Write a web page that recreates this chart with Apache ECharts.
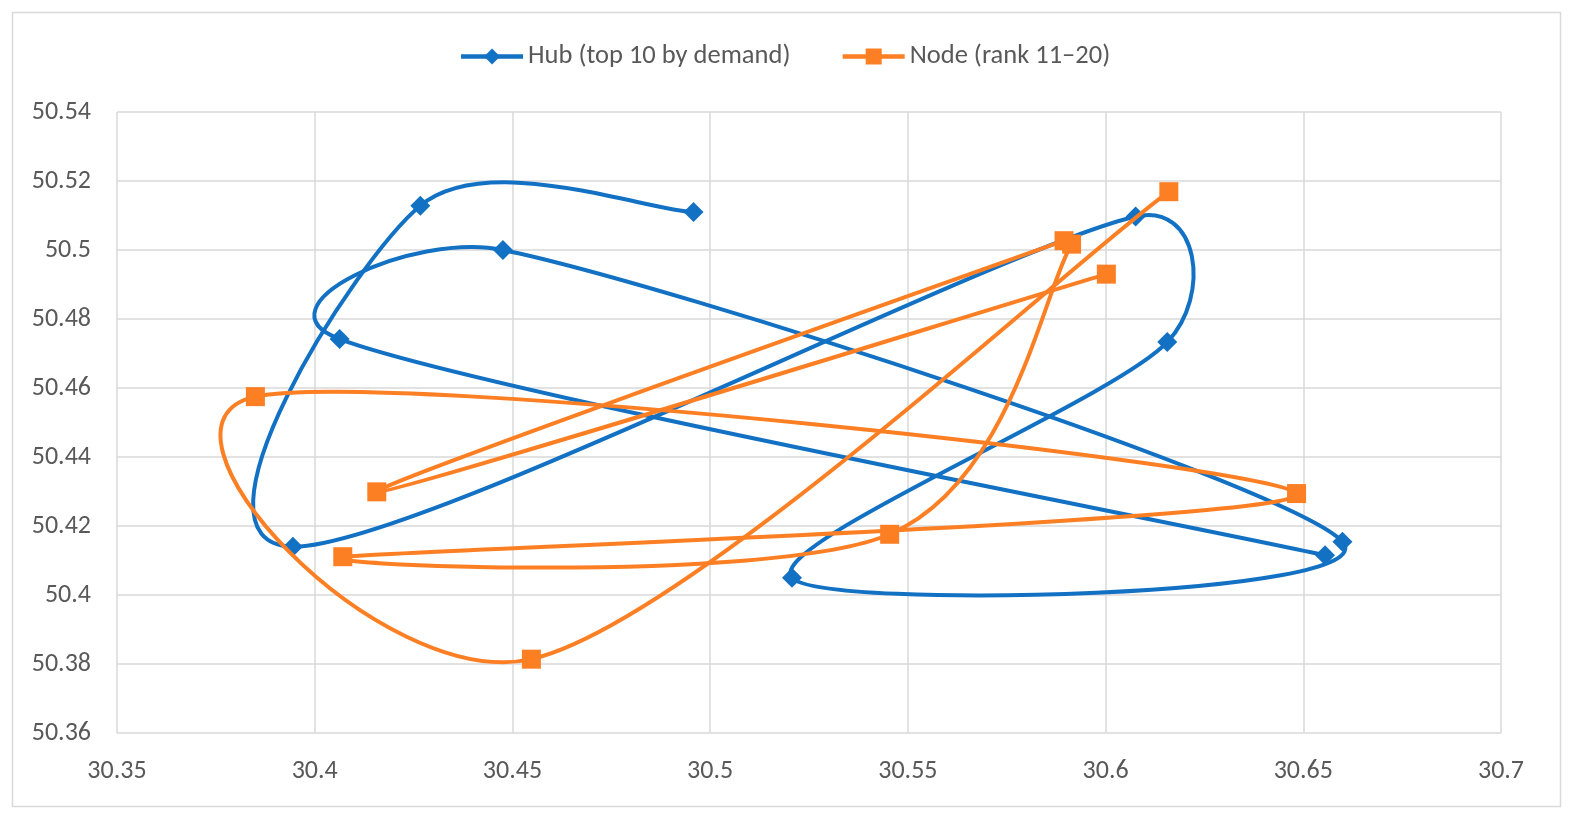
<!DOCTYPE html>
<html>
<head>
<meta charset="utf-8">
<script src="https://cdn.jsdelivr.net/npm/echarts@6/dist/echarts.min.js"></script>
<style>
  html, body { margin: 0; padding: 0; background: #fff; }
  #main { width: 1569px; height: 814px; }
</style>
</head>
<body>
<div id="main"></div>
<script>
(function () {
  // points, in drawing order
  var hubX = [30.4958, 30.4267, 30.3945, 30.6076, 30.6156, 30.5207, 30.6599, 30.4476, 30.4063, 30.6555];
  var hubY = [50.5110, 50.5128, 50.4140, 50.5097, 50.4733, 50.4050, 50.4154, 50.5000, 50.4742, 50.4115];
  var nodeX = [30.6002, 30.4157, 30.5895, 30.5914, 30.5454, 30.4071, 30.6483, 30.3850, 30.4548, 30.6160];
  var nodeY = [50.4930, 50.4299, 50.5027, 50.5017, 50.4176, 50.4111, 50.4294, 50.4575, 50.3814, 50.5169];

  var seriesNames = ['Hub (top 10 by demand)', 'Node (rank 11\u201320)'];
  var colors = ['#1371c4', '#fd7f24'];

  function pairs(xs, ys) {
    var out = [];
    for (var i = 0; i < xs.length; i++) {
      out.push([xs[i], ys[i]]);
    }
    return out;
  }

  function dist(a, b) {
    return Math.sqrt((a[0] - b[0]) * (a[0] - b[0]) + (a[1] - b[1]) * (a[1] - b[1]));
  }

  // excel-like smoothing: control arm along (next - prev) / 6, capped at half the segment
  function ctrl(prev, at, next, seg, sign) {
    var d = dist(prev, next);
    if (d === 0) return [at[0], at[1]];
    var len = Math.min(d / 6, seg / 2);
    var k = sign * len / d;
    return [at[0] + (next[0] - prev[0]) * k, at[1] + (next[1] - prev[1]) * k];
  }

  // custom series draws one bezier per segment, all points go through api.coord
  function curveRenderer(xs, ys, color) {
    return function (params, api) {
      var i = params.dataIndex;
      var n = xs.length;
      if (i >= n - 1) return null;
      var pt = function (k) {
        k = Math.max(0, Math.min(n - 1, k));
        return api.coord([xs[k], ys[k]]);
      };
      var p0 = pt(i - 1), p1 = pt(i), p2 = pt(i + 1), p3 = pt(i + 2);
      var seg = dist(p1, p2);
      var c1 = ctrl(p0, p1, p2, seg, 1);
      var c2 = ctrl(p1, p2, p3, seg, -1);
      return {
        type: 'bezierCurve',
        shape: {
          x1: p1[0], y1: p1[1],
          x2: p2[0], y2: p2[1],
          cpx1: c1[0], cpy1: c1[1],
          cpx2: c2[0], cpy2: c2[1]
        },
        style: { stroke: color, lineWidth: 4, fill: null, lineCap: 'round' }
      };
    };
  }

  var chartDom = document.getElementById('main');
  var myChart = echarts.init(chartDom);
  var font = 'Carlito, "Liberation Sans", "Noto Sans", sans-serif';

  var option = {
    animation: false,
    backgroundColor: '#fff',
    graphic: [
      {
        type: 'rect',
        left: 10,
        top: 10,
        shape: { width: 1548, height: 794 },
        style: { fill: 'none', stroke: '#d9d9d9', lineWidth: 1.5 },
        silent: true
      }
    ],
    legend: {
      top: 38,
      left: 'center',
      itemWidth: 62,
      itemHeight: 20,
      itemGap: 50,
      textStyle: { color: '#595959', fontSize: 26.5, fontFamily: font },
      lineStyle: { opacity: 1, width: 4.5 },
      data: seriesNames
    },
    grid: {
      left: 117,
      right: 68,
      top: 112,
      bottom: 81
    },
    xAxis: {
      type: 'value',
      min: 30.35,
      max: 30.7,
      interval: 0.05,
      axisLine: { show: false },
      axisTick: { show: false },
      axisLabel: { color: '#595959', fontSize: 26, fontFamily: font, margin: 25 },
      splitLine: { show: true, lineStyle: { color: '#d9d9d9', width: 1.5 } }
    },
    yAxis: {
      type: 'value',
      min: 50.36,
      max: 50.54,
      interval: 0.02,
      axisLine: { show: false },
      axisTick: { show: false },
      axisLabel: { color: '#595959', fontSize: 26, fontFamily: font, margin: 26 },
      splitLine: { show: true, lineStyle: { color: '#d9d9d9', width: 1.5 } }
    },
    series: [
      {
        name: seriesNames[0],
        type: 'line',
        z: 3,
        symbol: 'diamond',
        symbolSize: 20,
        lineStyle: { color: colors[0], width: 4, opacity: 0 },
        itemStyle: { color: colors[0] },
        data: pairs(hubX, hubY)
      },
      {
        name: seriesNames[0],
        type: 'custom',
        z: 2,
        renderItem: curveRenderer(hubX, hubY, colors[0]),
        encode: { x: 0, y: 1 },
        data: pairs(hubX, hubY)
      },
      {
        name: seriesNames[1],
        type: 'line',
        z: 5,
        symbol: 'rect',
        symbolSize: 19,
        lineStyle: { color: colors[1], width: 4, opacity: 0 },
        itemStyle: { color: colors[1] },
        data: pairs(nodeX, nodeY)
      },
      {
        name: seriesNames[1],
        type: 'custom',
        z: 4,
        renderItem: curveRenderer(nodeX, nodeY, colors[1]),
        encode: { x: 0, y: 1 },
        data: pairs(nodeX, nodeY)
      }
    ]
  };

  option && myChart.setOption(option);

  window.addEventListener('resize', function () {
    myChart.resize();
  });
})();
</script>
</body>
</html>
